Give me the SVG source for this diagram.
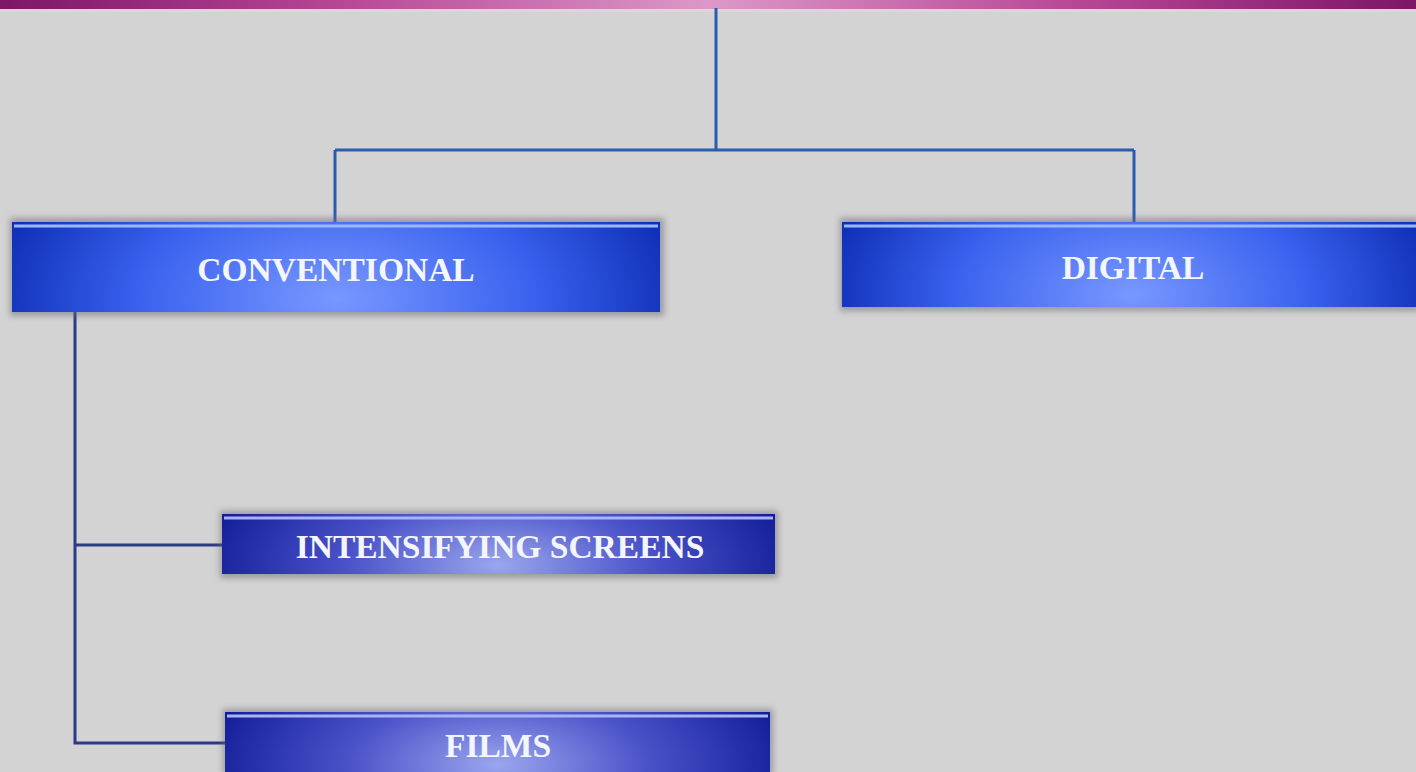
<svg xmlns="http://www.w3.org/2000/svg" width="1416" height="772" viewBox="0 0 1416 772">
<defs>
<linearGradient id="band" x1="0" y1="0" x2="1" y2="0">
<stop offset="0" stop-color="#7e1566"/>
<stop offset="0.25" stop-color="#b84a98"/>
<stop offset="0.5" stop-color="#dc98c8"/>
<stop offset="0.75" stop-color="#b84a98"/>
<stop offset="1" stop-color="#7e1566"/>
</linearGradient>
<radialGradient id="g1" cx="0.5" cy="0.85" r="0.55" gradientTransform="translate(0.5 0.85) scale(1 4) translate(-0.5 -0.85)">
<stop offset="0" stop-color="#7898ff"/>
<stop offset="0.55" stop-color="#3a62ee"/>
<stop offset="1" stop-color="#0c2cb4"/>
</radialGradient>
<radialGradient id="g2" cx="0.5" cy="0.85" r="0.55" gradientTransform="translate(0.5 0.85) scale(1 4) translate(-0.5 -0.85)">
<stop offset="0" stop-color="#9aa6ee"/>
<stop offset="0.5" stop-color="#4a52c8"/>
<stop offset="1" stop-color="#101c96"/>
</radialGradient>
<filter id="sh" x="-5%" y="-20%" width="110%" height="140%">
<feGaussianBlur stdDeviation="3"/>
</filter>
<style>
.lbl{font-family:"Liberation Serif","DejaVu Serif",serif;font-weight:bold;fill:#f4f6ff;text-anchor:middle}
.c1{stroke:#2c5cb0;stroke-width:3;fill:none}
.c2{stroke:#2c3a88;stroke-width:3;fill:none}
.hl{stroke:#9ab8ff;stroke-width:3}
.hl2{stroke:#a8b4f4;stroke-width:3}
.shd{fill:#6a6a78;opacity:0.55}
</style>
</defs>
<rect width="1416" height="772" fill="#d3d3d3"/>
<rect x="0" y="0" width="1416" height="9" fill="url(#band)"/>
<rect x="0" y="9" width="1416" height="3" fill="#e2d2dc"/>
<g id="connectors">
<path class="c1" d="M716 8 V150 M335 150 H1134 M335 150 V222 M1134 150 V222"/>
<path class="c2" d="M75 312 V743 H226 M75 545 H222"/>
</g>
<g id="conventional">
<rect class="shd" x="10" y="218" width="654" height="98" filter="url(#sh)"/>
<rect x="12" y="222" width="648" height="90" fill="url(#g1)"/>
<line class="hl" x1="14" y1="226" x2="658" y2="226"/>
<text class="lbl" x="336" y="281" font-size="33.5">CONVENTIONAL</text>
</g>
<g id="digital">
<rect class="shd" x="840" y="218" width="580" height="93" filter="url(#sh)"/>
<rect x="842" y="222" width="578" height="85" fill="url(#g1)"/>
<line class="hl" x1="844" y1="226" x2="1416" y2="226"/>
<text class="lbl" x="1133" y="279" font-size="33.5">DIGITAL</text>
</g>
<g id="intensifying">
<rect class="shd" x="220" y="511" width="558" height="67" filter="url(#sh)"/>
<rect x="222" y="514" width="553" height="60" fill="url(#g2)"/>
<line class="hl2" x1="224" y1="518" x2="773" y2="518"/>
<text class="lbl" x="500" y="558" font-size="33.5">INTENSIFYING SCREENS</text>
</g>
<g id="films">
<rect class="shd" x="223" y="709" width="550" height="66" filter="url(#sh)"/>
<rect x="225" y="712" width="545" height="62" fill="url(#g2)"/>
<line class="hl2" x1="227" y1="716" x2="768" y2="716"/>
<text class="lbl" x="498" y="757" font-size="33.5">FILMS</text>
</g>
</svg>
